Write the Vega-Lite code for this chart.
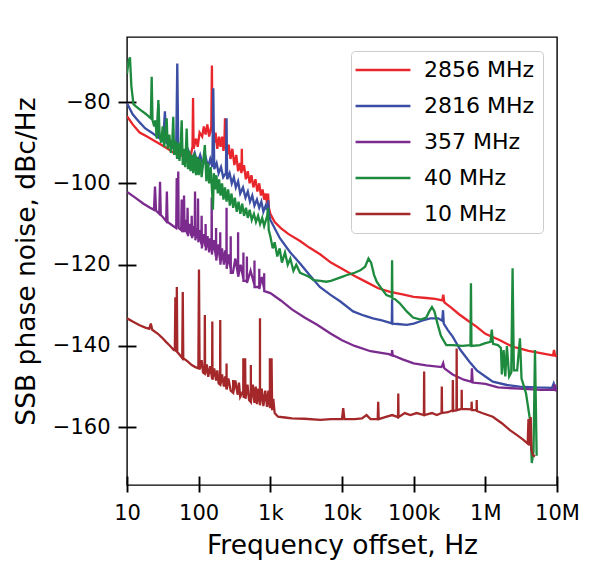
{
"$schema":"https://vega.github.io/schema/vega-lite/v6.json",
"width":430,"height":448,
"autosize":{"type":"none"},
"padding":{"left":127,"top":37,"right":56,"bottom":91},
"background":"white",
"config":{
"font":"DejaVu Sans",
"view":{"stroke":"#000000","strokeWidth":1.4},
"axis":{"grid":false,"domain":false,"tickColor":"#000000","tickWidth":1.9,"labelColor":"#000000","titleColor":"#000000","labelFontSize":21,"titleFontSize":26.5,"titleFontWeight":"normal","labelFont":"DejaVu Sans","titleFont":"DejaVu Sans","labelFlush":false,"labelOverlap":false,"zindex":1},
"legend":{"padding":8,"strokeColor":"#cccccc","cornerRadius":4,"fillColor":"#ffffff","labelFontSize":22,"labelColor":"#000000","labelFont":"DejaVu Sans","symbolType":"M-3.43,0H3.43","symbolSize":256,"symbolStrokeWidth":2.3,"symbolOffset":13,"labelOffset":30,"rowPadding":14}
},
"data":{"values":[
{"s":"2856 MHz","f":10,"v":-83.5},{"s":"2856 MHz","f":12,"v":-85.5},{"s":"2856 MHz","f":15,"v":-87.5},{"s":"2856 MHz","f":19,"v":-88.5},{"s":"2856 MHz","f":24,"v":-89.5},{"s":"2856 MHz","f":30,"v":-90.5},{"s":"2856 MHz","f":37,"v":-91.5},{"s":"2856 MHz","f":45,"v":-92.5},{"s":"2856 MHz","f":55,"v":-93},{"s":"2856 MHz","f":66,"v":-93.5},{"s":"2856 MHz","f":78,"v":-93},{"s":"2856 MHz","f":82,"v":-91},{"s":"2856 MHz","f":83.5,"v":-79},{"s":"2856 MHz","f":85,"v":-91.5},{"s":"2856 MHz","f":92,"v":-89},{"s":"2856 MHz","f":97,"v":-91},{"s":"2856 MHz","f":103,"v":-87.5},{"s":"2856 MHz","f":112,"v":-88.5},{"s":"2856 MHz","f":118,"v":-86},{"s":"2856 MHz","f":125,"v":-88},{"s":"2856 MHz","f":132,"v":-85.5},{"s":"2856 MHz","f":140,"v":-88.5},{"s":"2856 MHz","f":150,"v":-86},{"s":"2856 MHz","f":153,"v":-71},{"s":"2856 MHz","f":156,"v":-87},{"s":"2856 MHz","f":165,"v":-90},{"s":"2856 MHz","f":172,"v":-87.5},{"s":"2856 MHz","f":182,"v":-91.5},{"s":"2856 MHz","f":192,"v":-88.5},{"s":"2856 MHz","f":202,"v":-91},{"s":"2856 MHz","f":212,"v":-88.5},{"s":"2856 MHz","f":222,"v":-92},{"s":"2856 MHz","f":228,"v":-90.5},{"s":"2856 MHz","f":233,"v":-84},{"s":"2856 MHz","f":238,"v":-90},{"s":"2856 MHz","f":250,"v":-93},{"s":"2856 MHz","f":262,"v":-90.5},{"s":"2856 MHz","f":278,"v":-94},{"s":"2856 MHz","f":295,"v":-91.5},{"s":"2856 MHz","f":315,"v":-95.5},{"s":"2856 MHz","f":335,"v":-93},{"s":"2856 MHz","f":355,"v":-97},{"s":"2856 MHz","f":378,"v":-95},{"s":"2856 MHz","f":395,"v":-97.5},{"s":"2856 MHz","f":400,"v":-91.5},{"s":"2856 MHz","f":405,"v":-97},{"s":"2856 MHz","f":430,"v":-95.5},{"s":"2856 MHz","f":455,"v":-99},{"s":"2856 MHz","f":485,"v":-97},{"s":"2856 MHz","f":515,"v":-100},{"s":"2856 MHz","f":545,"v":-98},{"s":"2856 MHz","f":580,"v":-101},{"s":"2856 MHz","f":620,"v":-99},{"s":"2856 MHz","f":660,"v":-102},{"s":"2856 MHz","f":700,"v":-100},{"s":"2856 MHz","f":740,"v":-103},{"s":"2856 MHz","f":780,"v":-101.5},{"s":"2856 MHz","f":820,"v":-104},{"s":"2856 MHz","f":860,"v":-102.5},{"s":"2856 MHz","f":900,"v":-105},{"s":"2856 MHz","f":930,"v":-102.5},{"s":"2856 MHz","f":955,"v":-106},{"s":"2856 MHz","f":1000,"v":-107.5},{"s":"2856 MHz","f":1150,"v":-109.5},{"s":"2856 MHz","f":1400,"v":-111},{"s":"2856 MHz","f":1800,"v":-112.5},{"s":"2856 MHz","f":2600,"v":-114.2},{"s":"2856 MHz","f":3500,"v":-115.8},{"s":"2856 MHz","f":5000,"v":-117.5},{"s":"2856 MHz","f":7000,"v":-119.5},{"s":"2856 MHz","f":10000,"v":-121},{"s":"2856 MHz","f":15000,"v":-122.8},{"s":"2856 MHz","f":22000,"v":-124.3},{"s":"2856 MHz","f":32000,"v":-125.8},{"s":"2856 MHz","f":47000,"v":-126.7},{"s":"2856 MHz","f":70000,"v":-127.3},{"s":"2856 MHz","f":100000,"v":-127.9},{"s":"2856 MHz","f":150000,"v":-128.2},{"s":"2856 MHz","f":200000,"v":-128.4},{"s":"2856 MHz","f":250000,"v":-128.8},{"s":"2856 MHz","f":259000,"v":-127.4},{"s":"2856 MHz","f":268000,"v":-129.3},{"s":"2856 MHz","f":330000,"v":-130.5},{"s":"2856 MHz","f":430000,"v":-132.2},{"s":"2856 MHz","f":555000,"v":-133.6},{"s":"2856 MHz","f":760000,"v":-135.3},{"s":"2856 MHz","f":1000000,"v":-137},{"s":"2856 MHz","f":1600000,"v":-138.6},{"s":"2856 MHz","f":2400000,"v":-140.2},{"s":"2856 MHz","f":3000000,"v":-140.6},{"s":"2856 MHz","f":4000000,"v":-141.2},{"s":"2856 MHz","f":5000000,"v":-141.5},{"s":"2856 MHz","f":7000000,"v":-142},{"s":"2856 MHz","f":8800000,"v":-142.3},{"s":"2856 MHz","f":9100000,"v":-141},{"s":"2856 MHz","f":9400000,"v":-142.4},{"s":"2856 MHz","f":10000000,"v":-142.6},
{"s":"2816 MHz","f":10,"v":-80.3},{"s":"2816 MHz","f":12,"v":-83},{"s":"2816 MHz","f":15,"v":-85},{"s":"2816 MHz","f":18,"v":-86.5},{"s":"2816 MHz","f":22,"v":-87.5},{"s":"2816 MHz","f":26.5,"v":-88.5},{"s":"2816 MHz","f":27.3,"v":-80.5},{"s":"2816 MHz","f":28,"v":-88.8},{"s":"2816 MHz","f":32,"v":-89.5},{"s":"2816 MHz","f":33.8,"v":-82.3},{"s":"2816 MHz","f":35.5,"v":-90},{"s":"2816 MHz","f":42,"v":-91},{"s":"2816 MHz","f":48.5,"v":-92},{"s":"2816 MHz","f":50.3,"v":-70.5},{"s":"2816 MHz","f":52,"v":-92},{"s":"2816 MHz","f":60,"v":-92.5},{"s":"2816 MHz","f":66,"v":-94},{"s":"2816 MHz","f":72,"v":-92},{"s":"2816 MHz","f":80,"v":-94.5},{"s":"2816 MHz","f":88,"v":-92.5},{"s":"2816 MHz","f":96,"v":-95},{"s":"2816 MHz","f":105,"v":-93},{"s":"2816 MHz","f":115,"v":-95.5},{"s":"2816 MHz","f":125,"v":-93.5},{"s":"2816 MHz","f":135,"v":-96},{"s":"2816 MHz","f":145,"v":-94},{"s":"2816 MHz","f":155,"v":-96},{"s":"2816 MHz","f":160,"v":-76.6},{"s":"2816 MHz","f":165,"v":-96.5},{"s":"2816 MHz","f":178,"v":-95},{"s":"2816 MHz","f":190,"v":-97.5},{"s":"2816 MHz","f":205,"v":-96},{"s":"2816 MHz","f":220,"v":-98.5},{"s":"2816 MHz","f":240,"v":-97.5},{"s":"2816 MHz","f":245,"v":-84},{"s":"2816 MHz","f":250,"v":-99},{"s":"2816 MHz","f":270,"v":-97.5},{"s":"2816 MHz","f":290,"v":-100},{"s":"2816 MHz","f":310,"v":-98.5},{"s":"2816 MHz","f":330,"v":-101},{"s":"2816 MHz","f":355,"v":-99.5},{"s":"2816 MHz","f":380,"v":-102.5},{"s":"2816 MHz","f":415,"v":-101},{"s":"2816 MHz","f":450,"v":-103.5},{"s":"2816 MHz","f":485,"v":-102},{"s":"2816 MHz","f":520,"v":-104.5},{"s":"2816 MHz","f":560,"v":-103},{"s":"2816 MHz","f":600,"v":-105.5},{"s":"2816 MHz","f":650,"v":-104},{"s":"2816 MHz","f":700,"v":-106},{"s":"2816 MHz","f":750,"v":-104.5},{"s":"2816 MHz","f":800,"v":-107},{"s":"2816 MHz","f":860,"v":-105.5},{"s":"2816 MHz","f":900,"v":-106.5},{"s":"2816 MHz","f":930,"v":-104.2},{"s":"2816 MHz","f":960,"v":-107.5},{"s":"2816 MHz","f":1000,"v":-109},{"s":"2816 MHz","f":1360,"v":-113.5},{"s":"2816 MHz","f":1900,"v":-117},{"s":"2816 MHz","f":2600,"v":-119.7},{"s":"2816 MHz","f":3500,"v":-122.5},{"s":"2816 MHz","f":4900,"v":-125.5},{"s":"2816 MHz","f":7000,"v":-127.5},{"s":"2816 MHz","f":9400,"v":-129},{"s":"2816 MHz","f":14300,"v":-131.5},{"s":"2816 MHz","f":20000,"v":-132.5},{"s":"2816 MHz","f":27000,"v":-133.2},{"s":"2816 MHz","f":36000,"v":-133.7},{"s":"2816 MHz","f":47000,"v":-134.3},{"s":"2816 MHz","f":49500,"v":-134.5},{"s":"2816 MHz","f":50000,"v":-128.5},{"s":"2816 MHz","f":50500,"v":-134.5},{"s":"2816 MHz","f":60000,"v":-134.6},{"s":"2816 MHz","f":80000,"v":-134.8},{"s":"2816 MHz","f":100000,"v":-134.5},{"s":"2816 MHz","f":130000,"v":-133.8},{"s":"2816 MHz","f":170000,"v":-133.2},{"s":"2816 MHz","f":220000,"v":-133.2},{"s":"2816 MHz","f":250000,"v":-133.8},{"s":"2816 MHz","f":257000,"v":-131.2},{"s":"2816 MHz","f":263000,"v":-134.5},{"s":"2816 MHz","f":300000,"v":-136.1},{"s":"2816 MHz","f":350000,"v":-137.7},{"s":"2816 MHz","f":450000,"v":-141},{"s":"2816 MHz","f":600000,"v":-143.9},{"s":"2816 MHz","f":760000,"v":-146},{"s":"2816 MHz","f":1000000,"v":-147.5},{"s":"2816 MHz","f":1270000,"v":-148.8},{"s":"2816 MHz","f":2000000,"v":-149.6},{"s":"2816 MHz","f":3000000,"v":-150},{"s":"2816 MHz","f":5000000,"v":-150.2},{"s":"2816 MHz","f":8500000,"v":-150.3},{"s":"2816 MHz","f":9000000,"v":-149.2},{"s":"2816 MHz","f":9400000,"v":-150.3},{"s":"2816 MHz","f":10000000,"v":-150.3},
{"s":"357 MHz","f":10,"v":-102.1},{"s":"357 MHz","f":13,"v":-103.5},{"s":"357 MHz","f":17,"v":-105},{"s":"357 MHz","f":21,"v":-106},{"s":"357 MHz","f":23.8,"v":-106.5},{"s":"357 MHz","f":24.6,"v":-100.8},{"s":"357 MHz","f":25.4,"v":-106.7},{"s":"357 MHz","f":28.2,"v":-107.5},{"s":"357 MHz","f":28.9,"v":-99.6},{"s":"357 MHz","f":29.6,"v":-107.7},{"s":"357 MHz","f":35.2,"v":-109.3},{"s":"357 MHz","f":36,"v":-102},{"s":"357 MHz","f":36.8,"v":-109.5},{"s":"357 MHz","f":44,"v":-110.5},{"s":"357 MHz","f":48.6,"v":-111},{"s":"357 MHz","f":49.4,"v":-98.7},{"s":"357 MHz","f":50.2,"v":-110.5},{"s":"357 MHz","f":51.2,"v":-110},{"s":"357 MHz","f":51.9,"v":-97.1},{"s":"357 MHz","f":52.6,"v":-111},{"s":"357 MHz","f":57,"v":-111.5},{"s":"357 MHz","f":58,"v":-104},{"s":"357 MHz","f":59,"v":-112},{"s":"357 MHz","f":61.5,"v":-111},{"s":"357 MHz","f":62.5,"v":-103},{"s":"357 MHz","f":63.5,"v":-112},{"s":"357 MHz","f":66,"v":-109},{"s":"357 MHz","f":69,"v":-112.5},{"s":"357 MHz","f":70,"v":-106},{"s":"357 MHz","f":71,"v":-113},{"s":"357 MHz","f":75,"v":-110},{"s":"357 MHz","f":79,"v":-113},{"s":"357 MHz","f":80,"v":-108},{"s":"357 MHz","f":81,"v":-113.5},{"s":"357 MHz","f":85,"v":-110.5},{"s":"357 MHz","f":88,"v":-113},{"s":"357 MHz","f":89,"v":-102},{"s":"357 MHz","f":90,"v":-114},{"s":"357 MHz","f":94,"v":-111},{"s":"357 MHz","f":97,"v":-113.5},{"s":"357 MHz","f":98,"v":-103.7},{"s":"357 MHz","f":99,"v":-114.5},{"s":"357 MHz","f":104,"v":-111.5},{"s":"357 MHz","f":109,"v":-115},{"s":"357 MHz","f":110,"v":-108},{"s":"357 MHz","f":111,"v":-116},{"s":"357 MHz","f":117,"v":-112.5},{"s":"357 MHz","f":124,"v":-115.5},{"s":"357 MHz","f":125,"v":-110},{"s":"357 MHz","f":126,"v":-116.5},{"s":"357 MHz","f":133,"v":-113},{"s":"357 MHz","f":140,"v":-117},{"s":"357 MHz","f":145,"v":-113.5},{"s":"357 MHz","f":151,"v":-116.5},{"s":"357 MHz","f":152,"v":-103.5},{"s":"357 MHz","f":153,"v":-117.5},{"s":"357 MHz","f":162,"v":-114},{"s":"357 MHz","f":174,"v":-118},{"s":"357 MHz","f":175,"v":-111},{"s":"357 MHz","f":176,"v":-119},{"s":"357 MHz","f":187,"v":-115},{"s":"357 MHz","f":199,"v":-119},{"s":"357 MHz","f":200,"v":-112},{"s":"357 MHz","f":201,"v":-120},{"s":"357 MHz","f":212,"v":-116},{"s":"357 MHz","f":225,"v":-120},{"s":"357 MHz","f":235,"v":-116.5},{"s":"357 MHz","f":244,"v":-119.5},{"s":"357 MHz","f":245,"v":-106},{"s":"357 MHz","f":246,"v":-121},{"s":"357 MHz","f":262,"v":-117.5},{"s":"357 MHz","f":279,"v":-121},{"s":"357 MHz","f":280,"v":-113},{"s":"357 MHz","f":281,"v":-122},{"s":"357 MHz","f":300,"v":-122},{"s":"357 MHz","f":325,"v":-118.5},{"s":"357 MHz","f":354,"v":-122.5},{"s":"357 MHz","f":355,"v":-112},{"s":"357 MHz","f":356,"v":-123},{"s":"357 MHz","f":385,"v":-120},{"s":"357 MHz","f":420,"v":-123.5},{"s":"357 MHz","f":421,"v":-117},{"s":"357 MHz","f":422,"v":-124},{"s":"357 MHz","f":470,"v":-124},{"s":"357 MHz","f":471,"v":-118},{"s":"357 MHz","f":472,"v":-124.5},{"s":"357 MHz","f":530,"v":-121.5},{"s":"357 MHz","f":600,"v":-125},{"s":"357 MHz","f":601,"v":-119},{"s":"357 MHz","f":602,"v":-125.5},{"s":"357 MHz","f":700,"v":-125.5},{"s":"357 MHz","f":701,"v":-121},{"s":"357 MHz","f":702,"v":-126},{"s":"357 MHz","f":760,"v":-123},{"s":"357 MHz","f":820,"v":-126},{"s":"357 MHz","f":821,"v":-122.1},{"s":"357 MHz","f":822,"v":-126.5},{"s":"357 MHz","f":1000,"v":-127},{"s":"357 MHz","f":1400,"v":-128.8},{"s":"357 MHz","f":2000,"v":-131},{"s":"357 MHz","f":3000,"v":-133},{"s":"357 MHz","f":4500,"v":-134.8},{"s":"357 MHz","f":7000,"v":-137},{"s":"357 MHz","f":10000,"v":-138.6},{"s":"357 MHz","f":15000,"v":-140},{"s":"357 MHz","f":25000,"v":-141.3},{"s":"357 MHz","f":45000,"v":-142},{"s":"357 MHz","f":49500,"v":-142.3},{"s":"357 MHz","f":50000,"v":-141},{"s":"357 MHz","f":51000,"v":-142.3},{"s":"357 MHz","f":70000,"v":-143.3},{"s":"357 MHz","f":100000,"v":-144.3},{"s":"357 MHz","f":150000,"v":-144.8},{"s":"357 MHz","f":245000,"v":-145.2},{"s":"357 MHz","f":258000,"v":-144.2},{"s":"357 MHz","f":268000,"v":-145.5},{"s":"357 MHz","f":350000,"v":-147},{"s":"357 MHz","f":500000,"v":-148.3},{"s":"357 MHz","f":640000,"v":-148.8},{"s":"357 MHz","f":650000,"v":-145.5},{"s":"357 MHz","f":665000,"v":-149},{"s":"357 MHz","f":1000000,"v":-149.3},{"s":"357 MHz","f":1500000,"v":-150.2},{"s":"357 MHz","f":3000000,"v":-150.5},{"s":"357 MHz","f":6000000,"v":-150.8},{"s":"357 MHz","f":9000000,"v":-150.8},{"s":"357 MHz","f":9300000,"v":-149.5},{"s":"357 MHz","f":9600000,"v":-150.9},{"s":"357 MHz","f":10000000,"v":-150.9},
{"s":"40 MHz","f":10,"v":-73},{"s":"40 MHz","f":10.5,"v":-70},{"s":"40 MHz","f":11,"v":-69},{"s":"40 MHz","f":11.5,"v":-76},{"s":"40 MHz","f":12.3,"v":-80.5},{"s":"40 MHz","f":13.2,"v":-81},{"s":"40 MHz","f":14.3,"v":-81.5},{"s":"40 MHz","f":15.5,"v":-82},{"s":"40 MHz","f":17,"v":-82.5},{"s":"40 MHz","f":18.5,"v":-83},{"s":"40 MHz","f":20,"v":-83.5},{"s":"40 MHz","f":21.5,"v":-84},{"s":"40 MHz","f":22.1,"v":-73.8},{"s":"40 MHz","f":22.7,"v":-84.5},{"s":"40 MHz","f":24,"v":-86},{"s":"40 MHz","f":25,"v":-84.5},{"s":"40 MHz","f":26,"v":-89},{"s":"40 MHz","f":27.4,"v":-79.5},{"s":"40 MHz","f":28.5,"v":-88},{"s":"40 MHz","f":30,"v":-90},{"s":"40 MHz","f":31.5,"v":-86},{"s":"40 MHz","f":33,"v":-91},{"s":"40 MHz","f":34.5,"v":-87.5},{"s":"40 MHz","f":35.8,"v":-84},{"s":"40 MHz","f":37,"v":-91.5},{"s":"40 MHz","f":39,"v":-88},{"s":"40 MHz","f":41,"v":-92.5},{"s":"40 MHz","f":43,"v":-89},{"s":"40 MHz","f":44.2,"v":-83.6},{"s":"40 MHz","f":45.5,"v":-93},{"s":"40 MHz","f":47.5,"v":-89.5},{"s":"40 MHz","f":50,"v":-94},{"s":"40 MHz","f":52,"v":-90},{"s":"40 MHz","f":54,"v":-94.5},{"s":"40 MHz","f":56,"v":-91},{"s":"40 MHz","f":58,"v":-84.5},{"s":"40 MHz","f":60,"v":-95.5},{"s":"40 MHz","f":62.5,"v":-91.5},{"s":"40 MHz","f":65,"v":-96},{"s":"40 MHz","f":68,"v":-86.5},{"s":"40 MHz","f":71,"v":-96.5},{"s":"40 MHz","f":74,"v":-92},{"s":"40 MHz","f":77,"v":-97},{"s":"40 MHz","f":80,"v":-93},{"s":"40 MHz","f":84,"v":-97.5},{"s":"40 MHz","f":88,"v":-92.5},{"s":"40 MHz","f":92,"v":-98},{"s":"40 MHz","f":96,"v":-93.5},{"s":"40 MHz","f":100,"v":-98},{"s":"40 MHz","f":105,"v":-94},{"s":"40 MHz","f":110,"v":-98.5},{"s":"40 MHz","f":116,"v":-94.5},{"s":"40 MHz","f":122,"v":-90.6},{"s":"40 MHz","f":128,"v":-99.5},{"s":"40 MHz","f":134,"v":-95},{"s":"40 MHz","f":140,"v":-100},{"s":"40 MHz","f":147,"v":-96},{"s":"40 MHz","f":155,"v":-103},{"s":"40 MHz","f":158,"v":-106.5},{"s":"40 MHz","f":163,"v":-97.5},{"s":"40 MHz","f":170,"v":-101.5},{"s":"40 MHz","f":177,"v":-98},{"s":"40 MHz","f":185,"v":-102.5},{"s":"40 MHz","f":193,"v":-99},{"s":"40 MHz","f":202,"v":-103},{"s":"40 MHz","f":212,"v":-100},{"s":"40 MHz","f":222,"v":-104},{"s":"40 MHz","f":233,"v":-101},{"s":"40 MHz","f":245,"v":-104.5},{"s":"40 MHz","f":258,"v":-101.5},{"s":"40 MHz","f":272,"v":-105.5},{"s":"40 MHz","f":287,"v":-102.5},{"s":"40 MHz","f":303,"v":-106},{"s":"40 MHz","f":320,"v":-103.5},{"s":"40 MHz","f":340,"v":-107},{"s":"40 MHz","f":360,"v":-104.5},{"s":"40 MHz","f":382,"v":-107.5},{"s":"40 MHz","f":405,"v":-105},{"s":"40 MHz","f":430,"v":-108},{"s":"40 MHz","f":457,"v":-106},{"s":"40 MHz","f":485,"v":-108.5},{"s":"40 MHz","f":515,"v":-106.5},{"s":"40 MHz","f":550,"v":-109},{"s":"40 MHz","f":590,"v":-107.5},{"s":"40 MHz","f":630,"v":-109.5},{"s":"40 MHz","f":675,"v":-108},{"s":"40 MHz","f":720,"v":-110},{"s":"40 MHz","f":770,"v":-108.5},{"s":"40 MHz","f":820,"v":-110.5},{"s":"40 MHz","f":870,"v":-109},{"s":"40 MHz","f":905,"v":-108},{"s":"40 MHz","f":925,"v":-106},{"s":"40 MHz","f":950,"v":-111.5},{"s":"40 MHz","f":1000,"v":-113},{"s":"40 MHz","f":1080,"v":-116},{"s":"40 MHz","f":1150,"v":-114.5},{"s":"40 MHz","f":1250,"v":-118},{"s":"40 MHz","f":1350,"v":-116},{"s":"40 MHz","f":1450,"v":-119.5},{"s":"40 MHz","f":1600,"v":-117},{"s":"40 MHz","f":1750,"v":-120},{"s":"40 MHz","f":1900,"v":-118.5},{"s":"40 MHz","f":2100,"v":-121.5},{"s":"40 MHz","f":2300,"v":-120},{"s":"40 MHz","f":2600,"v":-122},{"s":"40 MHz","f":3000,"v":-122.5},{"s":"40 MHz","f":3500,"v":-123},{"s":"40 MHz","f":4000,"v":-123.8},{"s":"40 MHz","f":5000,"v":-124},{"s":"40 MHz","f":6000,"v":-124.2},{"s":"40 MHz","f":7000,"v":-124},{"s":"40 MHz","f":10000,"v":-123},{"s":"40 MHz","f":11500,"v":-122.6},{"s":"40 MHz","f":15000,"v":-122},{"s":"40 MHz","f":18000,"v":-121.4},{"s":"40 MHz","f":21000,"v":-120.5},{"s":"40 MHz","f":23400,"v":-118.5},{"s":"40 MHz","f":25500,"v":-119.5},{"s":"40 MHz","f":28000,"v":-122.5},{"s":"40 MHz","f":30500,"v":-124.2},{"s":"40 MHz","f":36000,"v":-126},{"s":"40 MHz","f":41700,"v":-127.5},{"s":"40 MHz","f":49500,"v":-128},{"s":"40 MHz","f":50000,"v":-118.9},{"s":"40 MHz","f":50500,"v":-128.3},{"s":"40 MHz","f":55000,"v":-128.5},{"s":"40 MHz","f":64000,"v":-129.5},{"s":"40 MHz","f":80000,"v":-131.5},{"s":"40 MHz","f":98000,"v":-133},{"s":"40 MHz","f":125000,"v":-133.5},{"s":"40 MHz","f":150000,"v":-133},{"s":"40 MHz","f":165000,"v":-131.5},{"s":"40 MHz","f":180000,"v":-130.4},{"s":"40 MHz","f":195000,"v":-131.5},{"s":"40 MHz","f":215000,"v":-134.5},{"s":"40 MHz","f":240000,"v":-137.5},{"s":"40 MHz","f":285000,"v":-139.8},{"s":"40 MHz","f":350000,"v":-139.8},{"s":"40 MHz","f":480000,"v":-140},{"s":"40 MHz","f":620000,"v":-139.8},{"s":"40 MHz","f":630000,"v":-124.6},{"s":"40 MHz","f":640000,"v":-140},{"s":"40 MHz","f":840000,"v":-139.8},{"s":"40 MHz","f":1000000,"v":-139.3},{"s":"40 MHz","f":1180000,"v":-139},{"s":"40 MHz","f":1230000,"v":-136},{"s":"40 MHz","f":1280000,"v":-139.5},{"s":"40 MHz","f":1500000,"v":-139.8},{"s":"40 MHz","f":1650000,"v":-140.5},{"s":"40 MHz","f":1700000,"v":-147},{"s":"40 MHz","f":1800000,"v":-141},{"s":"40 MHz","f":1900000,"v":-147.5},{"s":"40 MHz","f":2000000,"v":-140},{"s":"40 MHz","f":2150000,"v":-147.5},{"s":"40 MHz","f":2300000,"v":-146.5},{"s":"40 MHz","f":2400000,"v":-120.9},{"s":"40 MHz","f":2500000,"v":-146},{"s":"40 MHz","f":2780000,"v":-146},{"s":"40 MHz","f":3040000,"v":-138.1},{"s":"40 MHz","f":3200000,"v":-148},{"s":"40 MHz","f":3700000,"v":-151.7},{"s":"40 MHz","f":4200000,"v":-158.2},{"s":"40 MHz","f":4450000,"v":-168.8},{"s":"40 MHz","f":4700000,"v":-166},{"s":"40 MHz","f":4930000,"v":-141},{"s":"40 MHz","f":5200000,"v":-167},
{"s":"10 MHz","f":10,"v":-133.2},{"s":"10 MHz","f":12,"v":-134},{"s":"10 MHz","f":15,"v":-134.9},{"s":"10 MHz","f":18,"v":-135.5},{"s":"10 MHz","f":20.5,"v":-135.8},{"s":"10 MHz","f":21.5,"v":-134.5},{"s":"10 MHz","f":22.5,"v":-136},{"s":"10 MHz","f":27,"v":-137},{"s":"10 MHz","f":31,"v":-138},{"s":"10 MHz","f":35,"v":-139},{"s":"10 MHz","f":40,"v":-140},{"s":"10 MHz","f":45,"v":-141},{"s":"10 MHz","f":46.5,"v":-141},{"s":"10 MHz","f":47.3,"v":-128},{"s":"10 MHz","f":48.2,"v":-141.2},{"s":"10 MHz","f":49,"v":-141.3},{"s":"10 MHz","f":49.6,"v":-125.5},{"s":"10 MHz","f":50.3,"v":-141.5},{"s":"10 MHz","f":55,"v":-142.3},{"s":"10 MHz","f":59,"v":-143},{"s":"10 MHz","f":60,"v":-126.7},{"s":"10 MHz","f":61,"v":-143},{"s":"10 MHz","f":70,"v":-143.8},{"s":"10 MHz","f":80,"v":-144.7},{"s":"10 MHz","f":90,"v":-145.2},{"s":"10 MHz","f":99,"v":-145.5},{"s":"10 MHz","f":101,"v":-121.2},{"s":"10 MHz","f":103,"v":-145.8},{"s":"10 MHz","f":110,"v":-143.5},{"s":"10 MHz","f":115,"v":-146.5},{"s":"10 MHz","f":121,"v":-146.8},{"s":"10 MHz","f":122,"v":-132.4},{"s":"10 MHz","f":123,"v":-147},{"s":"10 MHz","f":130,"v":-144.5},{"s":"10 MHz","f":136,"v":-147.6},{"s":"10 MHz","f":145,"v":-145},{"s":"10 MHz","f":154,"v":-148},{"s":"10 MHz","f":155,"v":-134},{"s":"10 MHz","f":156,"v":-148.3},{"s":"10 MHz","f":165,"v":-145.5},{"s":"10 MHz","f":175,"v":-148.5},{"s":"10 MHz","f":182,"v":-146},{"s":"10 MHz","f":190,"v":-149.2},{"s":"10 MHz","f":199,"v":-149.5},{"s":"10 MHz","f":200,"v":-133.6},{"s":"10 MHz","f":201,"v":-149.7},{"s":"10 MHz","f":212,"v":-147},{"s":"10 MHz","f":225,"v":-150},{"s":"10 MHz","f":235,"v":-147.5},{"s":"10 MHz","f":244,"v":-150.6},{"s":"10 MHz","f":245,"v":-144.3},{"s":"10 MHz","f":246,"v":-150.7},{"s":"10 MHz","f":260,"v":-148},{"s":"10 MHz","f":280,"v":-151},{"s":"10 MHz","f":302,"v":-151.5},{"s":"10 MHz","f":303,"v":-148.4},{"s":"10 MHz","f":304,"v":-151.5},{"s":"10 MHz","f":325,"v":-148.5},{"s":"10 MHz","f":350,"v":-152},{"s":"10 MHz","f":365,"v":-149},{"s":"10 MHz","f":380,"v":-152.5},{"s":"10 MHz","f":419,"v":-151},{"s":"10 MHz","f":420,"v":-143},{"s":"10 MHz","f":425,"v":-152.8},{"s":"10 MHz","f":435,"v":-149},{"s":"10 MHz","f":445,"v":-143},{"s":"10 MHz","f":450,"v":-153},{"s":"10 MHz","f":480,"v":-149.5},{"s":"10 MHz","f":505,"v":-153.3},{"s":"10 MHz","f":534,"v":-153.8},{"s":"10 MHz","f":535,"v":-144.7},{"s":"10 MHz","f":536,"v":-153.8},{"s":"10 MHz","f":570,"v":-149.5},{"s":"10 MHz","f":600,"v":-154},{"s":"10 MHz","f":625,"v":-150},{"s":"10 MHz","f":650,"v":-154.3},{"s":"10 MHz","f":680,"v":-150.5},{"s":"10 MHz","f":716,"v":-154.5},{"s":"10 MHz","f":717,"v":-133.2},{"s":"10 MHz","f":718,"v":-154.6},{"s":"10 MHz","f":760,"v":-150.5},{"s":"10 MHz","f":800,"v":-154.8},{"s":"10 MHz","f":850,"v":-151},{"s":"10 MHz","f":900,"v":-155},{"s":"10 MHz","f":940,"v":-151},{"s":"10 MHz","f":985,"v":-155.2},{"s":"10 MHz","f":986,"v":-143},{"s":"10 MHz","f":1000,"v":-155.3},{"s":"10 MHz","f":1040,"v":-143},{"s":"10 MHz","f":1060,"v":-155.8},{"s":"10 MHz","f":1100,"v":-153},{"s":"10 MHz","f":1150,"v":-156.5},{"s":"10 MHz","f":1280,"v":-157.4},{"s":"10 MHz","f":1600,"v":-157.6},{"s":"10 MHz","f":2000,"v":-157.8},{"s":"10 MHz","f":3000,"v":-157.9},{"s":"10 MHz","f":5000,"v":-158.2},{"s":"10 MHz","f":7000,"v":-158},{"s":"10 MHz","f":10000,"v":-158},{"s":"10 MHz","f":10400,"v":-155.3},{"s":"10 MHz","f":10800,"v":-158},{"s":"10 MHz","f":15000,"v":-158},{"s":"10 MHz","f":19000,"v":-157.8},{"s":"10 MHz","f":22000,"v":-157},{"s":"10 MHz","f":25000,"v":-158},{"s":"10 MHz","f":31500,"v":-158},{"s":"10 MHz","f":32000,"v":-153.7},{"s":"10 MHz","f":32500,"v":-158},{"s":"10 MHz","f":40000,"v":-157.5},{"s":"10 MHz","f":50000,"v":-157},{"s":"10 MHz","f":60500,"v":-157.5},{"s":"10 MHz","f":61000,"v":-151.7},{"s":"10 MHz","f":61500,"v":-157.5},{"s":"10 MHz","f":75000,"v":-156.5},{"s":"10 MHz","f":90000,"v":-157},{"s":"10 MHz","f":110000,"v":-156.5},{"s":"10 MHz","f":139000,"v":-157},{"s":"10 MHz","f":140000,"v":-146.3},{"s":"10 MHz","f":141000,"v":-157},{"s":"10 MHz","f":180000,"v":-156.5},{"s":"10 MHz","f":210000,"v":-157},{"s":"10 MHz","f":245000,"v":-156.5},{"s":"10 MHz","f":247000,"v":-150},{"s":"10 MHz","f":249000,"v":-156.5},{"s":"10 MHz","f":300000,"v":-156.3},{"s":"10 MHz","f":350000,"v":-155.8},{"s":"10 MHz","f":352000,"v":-148.4},{"s":"10 MHz","f":356000,"v":-156},{"s":"10 MHz","f":396000,"v":-155.8},{"s":"10 MHz","f":398000,"v":-140.6},{"s":"10 MHz","f":401000,"v":-155.8},{"s":"10 MHz","f":466000,"v":-155.5},{"s":"10 MHz","f":468000,"v":-150.8},{"s":"10 MHz","f":471000,"v":-155.5},{"s":"10 MHz","f":640000,"v":-155.6},{"s":"10 MHz","f":644000,"v":-153.7},{"s":"10 MHz","f":650000,"v":-155.8},{"s":"10 MHz","f":755000,"v":-155.8},{"s":"10 MHz","f":758000,"v":-153.3},{"s":"10 MHz","f":762000,"v":-156},{"s":"10 MHz","f":900000,"v":-156.5},{"s":"10 MHz","f":1270000,"v":-157.4},{"s":"10 MHz","f":1700000,"v":-159},{"s":"10 MHz","f":2200000,"v":-160.7},{"s":"10 MHz","f":2800000,"v":-162},{"s":"10 MHz","f":3400000,"v":-163.1},{"s":"10 MHz","f":3900000,"v":-164},{"s":"10 MHz","f":4000000,"v":-158},{"s":"10 MHz","f":4100000,"v":-164.5},{"s":"10 MHz","f":4300000,"v":-157.5},{"s":"10 MHz","f":4400000,"v":-165.5},{"s":"10 MHz","f":4600000,"v":-166.8},{"s":"10 MHz","f":4930000,"v":-167.2}
]},
"mark":{"type":"line","strokeWidth":2.3,"clip":true},
"encoding":{
"x":{"field":"f","type":"quantitative","scale":{"type":"log","domain":[10,10000000],"nice":false},"axis":{"title":"Frequency offset, Hz","values":[10,100,1000,10000,100000,1000000,10000000],"labelExpr":"datum.value >= 1000000 ? (datum.value/1000000) + 'M' : datum.value >= 1000 ? (datum.value/1000) + 'k' : '' + datum.value","offset":-9,"tickSize":16,"labelPadding":10,"titlePadding":9}},
"y":{"field":"v","type":"quantitative","scale":{"domain":[-174.2,-64],"nice":false,"zero":false},"axis":{"title":"SSB phase noise, dBc/Hz","values":[-160,-140,-120,-100,-80],"format":"d","offset":-9,"tickSize":18,"labelPadding":8,"titlePadding":12}},
"color":{"field":"s","type":"nominal","scale":{"domain":["2856 MHz","2816 MHz","357 MHz","40 MHz","10 MHz"],"range":["#e8262b","#3b4ea3","#7b2a8e","#1d8a3e","#a4282a"]},"legend":{"title":null,"orient":"top-right","offset":14}}
}
}
